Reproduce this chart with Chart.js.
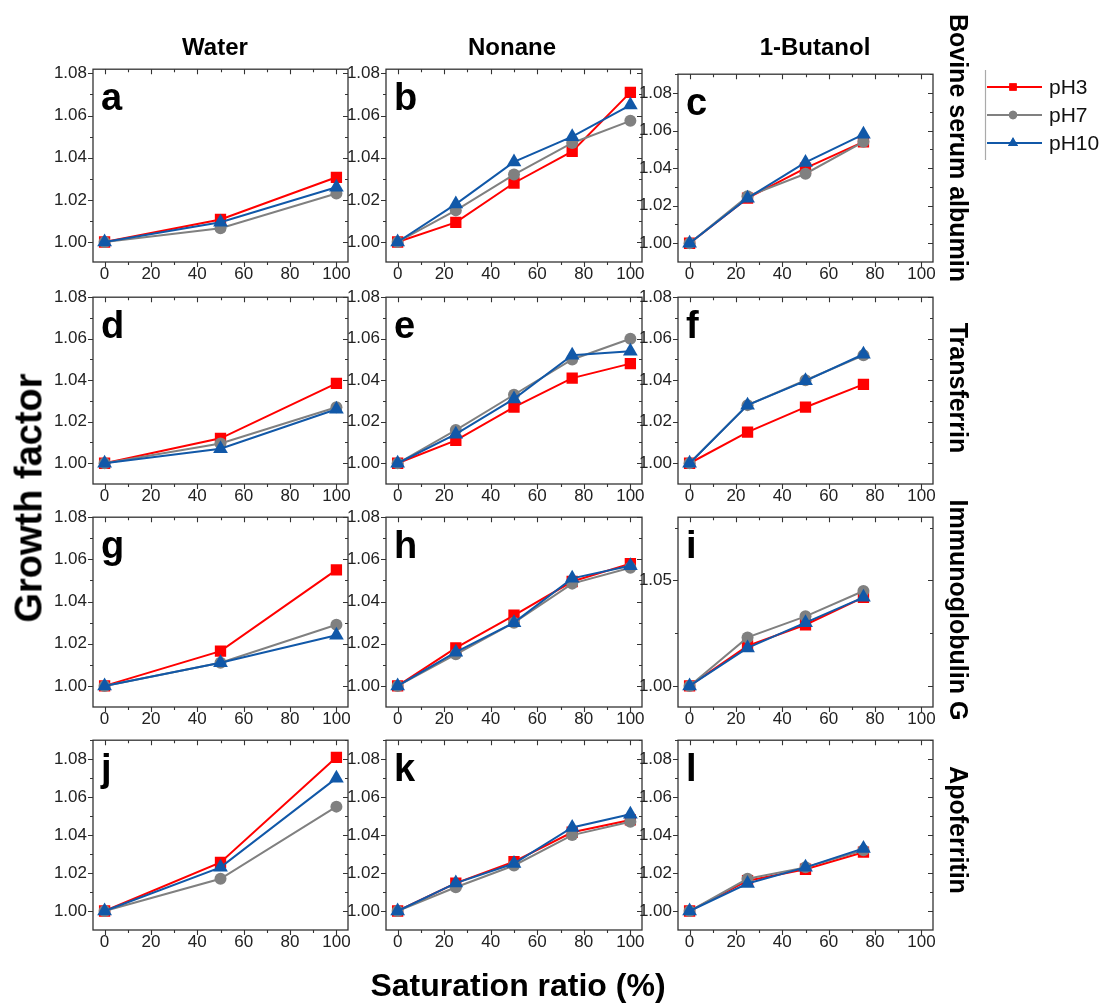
<!DOCTYPE html>
<html><head><meta charset="utf-8">
<script src="https://cdn.jsdelivr.net/npm/chart.js@4.4.0/dist/chart.umd.min.js"></script>
<style>
body{margin:0;background:#fff;width:1110px;height:1004px;overflow:hidden;position:relative;font-family:'Liberation Sans',Arial,sans-serif;}
canvas{position:absolute;}
.t{position:absolute;font-weight:bold;color:#000;white-space:nowrap;transform-origin:center center;}
</style></head><body>
<script>
// ---------------- data ----------------
const xWater = [0, 50, 100];
const xNonane = [0, 25, 50, 75, 100];
const xButanol = [0, 25, 50, 75];
const seriesNames = ['pH3', 'pH7', 'pH10'];
const solventNames = ['Water', 'Nonane', '1-Butanol'];
const proteinNames = ['Bovine serum albumin', 'Transferrin', 'Immunoglobulin G', 'Apoferritin'];
const panelLetters = ['a','b','c','d','e','f','g','h','i','j','k','l'];
const xTickLabels = [0, 20, 40, 60, 80, 100];
const yTickLabels = [1.00, 1.02, 1.04, 1.06, 1.08];
const yTickLabelsIgG = [1.00, 1.05];

// [pH3, pH7, pH10]
const panelA = [[1.000, 1.0107, 1.0307], [1.000, 1.0065, 1.023], [1.000, 1.0094, 1.026]];
const panelB = [[1.000, 1.0093, 1.028, 1.043, 1.071], [1.000, 1.015, 1.032, 1.047, 1.0575], [1.000, 1.018, 1.038, 1.050, 1.065]];
const panelC = [[1.000, 1.024, 1.040, 1.054], [1.000, 1.025, 1.037, 1.054], [1.000, 1.024, 1.043, 1.058]];
const panelD = [[1.000, 1.012, 1.0385], [1.000, 1.0095, 1.027], [1.000, 1.007, 1.026]];
const panelE = [[1.000, 1.011, 1.027, 1.041, 1.048], [1.000, 1.016, 1.033, 1.050, 1.060], [1.000, 1.014, 1.031, 1.052, 1.054]];
const panelF = [[1.000, 1.015, 1.027, 1.038], [1.000, 1.028, 1.040, 1.052], [1.000, 1.028, 1.0397, 1.0525]];
const panelG = [[1.000, 1.0165, 1.055], [1.000, 1.011, 1.029], [1.000, 1.011, 1.024]];
const panelH = [[1.000, 1.018, 1.0335, 1.0495, 1.058], [1.000, 1.015, 1.030, 1.0485, 1.056], [1.000, 1.016, 1.030, 1.051, 1.057]];
const panelI = [[1.000, 1.019, 1.029, 1.042], [1.000, 1.023, 1.033, 1.045], [1.000, 1.018, 1.030, 1.042]];
const panelJ = [[1.000, 1.0256, 1.081], [1.000, 1.017, 1.055], [1.000, 1.023, 1.070]];
const panelK = [[1.000, 1.0147, 1.026, 1.0415, 1.048], [1.000, 1.0125, 1.024, 1.040, 1.047], [1.000, 1.0147, 1.025, 1.044, 1.051]];
const panelL = [[1.000, 1.016, 1.022, 1.031], [1.000, 1.017, 1.023, 1.032], [1.000, 1.0145, 1.023, 1.033]];

// ---------------- styles / layout ----------------
const FONT = "'Liberation Sans', Arial, sans-serif";
const colors = ['#ff0000', '#808080', '#1158a8'];
const pointStyles = ['rect', 'circle', 'triangle'];
const pointRadii = [8, 6, 8.5];
const colLeft = [93, 386, 678];
const colWidth = [255, 256, 255];
const rowTop = [65, 293, 513, 736];
const rowBottom = [262, 484, 707, 930];

const panels = [
  {data: panelA, x: xWater, r: 0, c: 0, min: 0.9905, max: 1.082, yt: yTickLabels, ym: 0.01},
  {data: panelB, x: xNonane, r: 0, c: 1, min: 0.9905, max: 1.082, yt: yTickLabels, ym: 0.01},
  {data: panelC, x: xButanol, r: 0, c: 2, min: 0.99, max: 1.09, yt: yTickLabels, ym: 0.01, top: 70},
  {data: panelD, x: xWater, r: 1, c: 0, min: 0.99, max: 1.08, yt: yTickLabels, ym: 0.01},
  {data: panelE, x: xNonane, r: 1, c: 1, min: 0.99, max: 1.08, yt: yTickLabels, ym: 0.01},
  {data: panelF, x: xButanol, r: 1, c: 2, min: 0.99, max: 1.08, yt: yTickLabels, ym: 0.01},
  {data: panelG, x: xWater, r: 2, c: 0, min: 0.99, max: 1.08, yt: yTickLabels, ym: 0.01},
  {data: panelH, x: xNonane, r: 2, c: 1, min: 0.99, max: 1.08, yt: yTickLabels, ym: 0.01},
  {data: panelI, x: xButanol, r: 2, c: 2, min: 0.99, max: 1.08, yt: yTickLabelsIgG, ym: 0.025},
  {data: panelJ, x: xWater, r: 3, c: 0, min: 0.99, max: 1.09, yt: yTickLabels, ym: 0.01},
  {data: panelK, x: xNonane, r: 3, c: 1, min: 0.99, max: 1.09, yt: yTickLabels, ym: 0.01},
  {data: panelL, x: xButanol, r: 3, c: 2, min: 0.99, max: 1.09, yt: yTickLabels, ym: 0.01},
];

const framePlugin = {
  id: 'frame',
  afterDatasetsDraw(chart, args, o) {
    const {ctx, chartArea: a, scales: {x, y}} = chart;
    ctx.save();
    ctx.strokeStyle = '#333';
    ctx.lineWidth = 1.3;
    ctx.strokeRect(a.left, a.top, a.right - a.left, a.bottom - a.top);
    ctx.lineWidth = 1.1;
    ctx.beginPath();
    for (let v = 0; v <= 100.001; v += 10) {
      const px = Math.round(x.getPixelForValue(v)) + 0.5;
      const L = (Math.round(v) % 20 === 0) ? 5 : 3;
      ctx.moveTo(px, a.bottom); ctx.lineTo(px, a.bottom + L);
      ctx.moveTo(px, a.top); ctx.lineTo(px, a.top + L);
    }
    const majors = o.yt;
    for (let k = 0; ; k++) {
      const v = 1.0 + k * o.ym;
      if (v > y.max + 1e-9) break;
      const py = Math.round(y.getPixelForValue(v)) + 0.5;
      const isMajor = majors.some(m => Math.abs(m - v) < 1e-6);
      const L = isMajor ? 5 : 3;
      ctx.moveTo(a.left, py); ctx.lineTo(a.left - L, py);
      ctx.moveTo(a.right, py); ctx.lineTo(a.right - L, py);
    }
    ctx.stroke();
    ctx.fillStyle = '#000';
    ctx.font = 'bold 38px ' + FONT;
    ctx.textBaseline = 'alphabetic';
    ctx.textAlign = 'left';
    ctx.fillText(o.letter, a.left + 8, a.top + 41);
    ctx.restore();
  }
};

const PADT = 12, PADR = 12, YW = 50, XH = 30;
panels.forEach((p, i) => {
  const L = colLeft[p.c], W = colWidth[p.c];
  const T = p.top || rowTop[p.r], H = rowBottom[p.r] - T;
  const cv = document.createElement('canvas');
  cv.width = W + YW + PADR; cv.height = H + PADT + XH;
  cv.style.left = (L - YW) + 'px'; cv.style.top = (T - PADT) + 'px';
  cv.style.width = cv.width + 'px'; cv.style.height = cv.height + 'px';
  document.body.appendChild(cv);
  const datasets = p.data.map((vals, s) => ({
    label: seriesNames[s],
    data: p.x.map((xv, j) => ({x: xv, y: vals[j]})),
    borderColor: colors[s], backgroundColor: colors[s],
    borderWidth: 2, pointStyle: pointStyles[s], pointRadius: pointRadii[s],
    pointBorderWidth: 0, pointBackgroundColor: colors[s], pointBorderColor: colors[s],
    tension: 0, order: 2 - s
  }));
  new Chart(cv.getContext('2d'), {
    type: 'line',
    data: {datasets},
    options: {
      responsive: false, animation: false, devicePixelRatio: 1,
      layout: {padding: {left: 0, top: PADT, right: PADR, bottom: 0}},
      plugins: {legend: {display: false}, tooltip: {enabled: false},
        frame: {letter: panelLetters[i], yt: p.yt, ym: p.ym}},
      scales: {
        x: {type: 'linear', min: -5, max: 105,
          afterBuildTicks: s => { s.ticks = xTickLabels.map(v => ({value: v})); },
          afterFit: s => { s.height = XH; },
          grid: {display: false, drawTicks: false}, border: {display: false},
          ticks: {font: {family: FONT, size: 17}, color: '#222', padding: 2, maxRotation: 0, autoSkip: false,
            callback: v => String(v)}},
        y: {type: 'linear', min: p.min, max: p.max,
          afterBuildTicks: s => { s.ticks = p.yt.map(v => ({value: v})); },
          afterFit: s => { s.width = YW; },
          grid: {display: false, drawTicks: false}, border: {display: false},
          ticks: {font: {family: FONT, size: 17}, color: '#222', padding: 6, autoSkip: false,
            callback: v => Number(v).toFixed(2)}}
      }
    },
    plugins: [framePlugin]
  });
});

// ---------------- text ----------------
function addText(txt, cx, cy, size, rot) {
  const d = document.createElement('div');
  d.className = 't';
  d.textContent = txt;
  d.style.fontSize = size + 'px';
  d.style.left = cx + 'px'; d.style.top = cy + 'px';
  d.style.transform = 'translate(-50%,-50%)' + (rot ? ' rotate(' + rot + 'deg)' : '');
  document.body.appendChild(d);
}
const colCenters = [215, 512, 815];
solventNames.forEach((s, i) => addText(s, colCenters[i], 47, 24));
const rowCenters = [148, 388, 610, 830];
proteinNames.forEach((s, i) => addText(s, 958, rowCenters[i], 25, 90));
addText('Growth factor', 29, 498, 38, -90);
addText('Saturation ratio (%)', 518, 985, 32);

// ---------------- legend ----------------
const lg = document.createElement('canvas');
lg.width = 130; lg.height = 105;
lg.style.left = '980px'; lg.style.top = '62px';
document.body.appendChild(lg);
const lc = lg.getContext('2d');
lc.strokeStyle = '#aaa'; lc.lineWidth = 1.2;
lc.beginPath(); lc.moveTo(5.5, 8); lc.lineTo(5.5, 98); lc.stroke();
const legY = [25, 53, 81];
seriesNames.forEach((n, s) => {
  const yy = legY[s];
  lc.strokeStyle = colors[s]; lc.lineWidth = 2;
  lc.beginPath(); lc.moveTo(7, yy); lc.lineTo(62, yy); lc.stroke();
  lc.fillStyle = colors[s];
  Chart.helpers.drawPoint(lc, {pointStyle: pointStyles[s], radius: s === 0 ? 5.2 : (s === 1 ? 4.2 : 5.8), borderWidth: 0}, 33, yy);
  lc.fill();
  lc.fillStyle = '#111';
  lc.font = '21px ' + FONT;
  lc.textBaseline = 'middle';
  lc.fillText(n, 69, yy + 1);
});
</script>
</body></html>
